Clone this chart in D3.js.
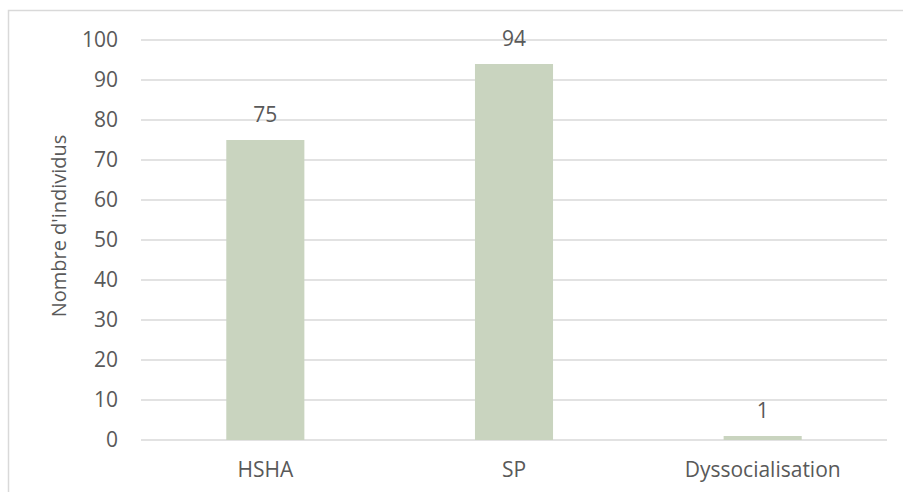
<!DOCTYPE html>
<html>
<head>
<meta charset="utf-8">
<script src="https://cdn.jsdelivr.net/npm/d3@7"></script>
<style>
  body { margin: 0; background: #fff; }
  svg text { font-family: "Open Sans", "Liberation Sans", sans-serif; fill: #595959; }
</style>
</head>
<body>
<div id="chart"></div>
<script>
// Chart data
const categories = ["HSHA", "SP", "Dyssocialisation"];
const values = [75, 94, 1];
const yTicks = [0, 10, 20, 30, 40, 50, 60, 70, 80, 90, 100];

const W = 903, H = 492;
const margin = { top: 40, right: 16, bottom: 52, left: 141 };
const width = W - margin.left - margin.right;
const height = H - margin.top - margin.bottom;
const fontSize = "21px";

const svg = d3.select("#chart").append("svg")
    .attr("width", W)
    .attr("height", H);

// chart border (right/bottom run off the picture)
svg.append("rect")
    .attr("x", 8.5).attr("y", 10.5)
    .attr("width", W + 10).attr("height", H + 10)
    .attr("fill", "none")
    .attr("stroke", "#d9d9d9")
    .attr("stroke-width", 1.5);

const g = svg.append("g")
    .attr("transform", `translate(${margin.left},${margin.top})`);

const x = d3.scaleBand()
    .domain(categories)
    .range([0, width])
    .paddingInner(0.686)
    .paddingOuter(0.343);

const y = d3.scaleLinear()
    .domain([0, 100])
    .range([height, 0]);

// gridlines
g.selectAll("line.grid")
    .data(yTicks)
    .enter().append("line")
    .attr("class", "grid")
    .attr("x1", 0)
    .attr("x2", width)
    .attr("y1", d => y(d))
    .attr("y2", d => y(d))
    .attr("stroke", "#d9d9d9")
    .attr("stroke-width", 1.3);

// y tick labels
const yAxis = g.append("g")
    .call(d3.axisLeft(y).tickValues(yTicks).tickSize(0).tickPadding(23));
yAxis.select(".domain").remove();
yAxis.selectAll("text")
    .style("font-size", fontSize)
    .attr("fill", "#595959");

// bars
g.selectAll("rect.bar")
    .data(values)
    .enter().append("rect")
    .attr("class", "bar")
    .attr("x", (d, i) => x(categories[i]))
    .attr("width", x.bandwidth())
    .attr("y", d => y(d))
    .attr("height", d => y(0) - y(d))
    .attr("fill", "#c9d4bf");

// value labels
g.selectAll("text.val")
    .data(values)
    .enter().append("text")
    .attr("class", "val")
    .attr("x", (d, i) => x(categories[i]) + x.bandwidth() / 2)
    .attr("y", d => y(d) - 18)
    .attr("text-anchor", "middle")
    .style("font-size", fontSize)
    .text(d => d);

// x category labels
const xAxis = g.append("g")
    .attr("transform", `translate(0,${height})`)
    .call(d3.axisBottom(x).tickSize(0).tickPadding(22));
xAxis.select(".domain").remove();
xAxis.selectAll("text")
    .style("font-size", fontSize)
    .attr("fill", "#595959");

// y axis title
svg.append("text")
    .attr("transform", `translate(66,226) rotate(-90)`)
    .attr("text-anchor", "middle")
    .style("font-size", "20px")
    .text("Nombre d'individus");
</script>
</body>
</html>
